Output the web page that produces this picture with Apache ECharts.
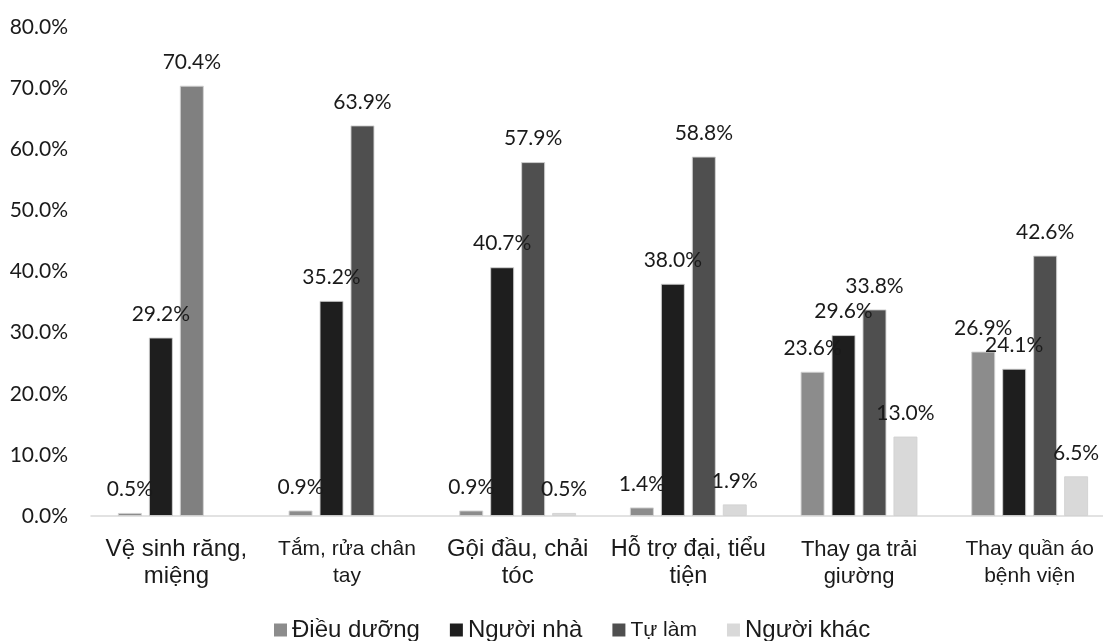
<!DOCTYPE html>
<html>
<head>
<meta charset="utf-8">
<script src="https://cdn.jsdelivr.net/npm/echarts@6/dist/echarts.min.js"></script>
<style>
  html, body { margin: 0; padding: 0; background: #ffffff; overflow: hidden; }
  /* the plot runs slightly past the right edge of the window */
  #chart { width: 1120px; height: 641px; }
</style>
</head>
<body>
<div id="chart"></div>
<script>
// Care tasks (axis categories, wrapped on two lines)
const categories = [
  'Vệ sinh răng,\nmiệng',
  'Tắm, rửa chân\ntay',
  'Gội đầu, chải\ntóc',
  'Hỗ trợ đại, tiểu\ntiện',
  'Thay ga trải\ngiường',
  'Thay quần áo\nbệnh viện'
];
const categoryFontSizes = [24, 21, 24, 23.5, 22, 21];

// Share of each task done by each person (%)
const dieuDuong = [0.5, 0.9, 0.9, 1.4, 23.6, 26.9];
const nguoiNha  = [29.2, 35.2, 40.7, 38.0, 29.6, 24.1];
const tuLam     = [70.4, 63.9, 57.9, 58.8, 33.8, 42.6];
const nguoiKhac = [null, null, 0.5, 1.9, 13.0, 6.5];

const seriesNames = ['Điều dưỡng', 'Người nhà', 'Tự làm', 'Người khác'];
const seriesColors = ['#8c8c8c', '#1e1e1e', '#4f4f4f', '#d9d9d9'];
const legendFontSizes = [24, 24, 21, 24];

const yTicks = { min: 0, max: 80, interval: 10 };

const numFont = 'Lato, "Open Sans", sans-serif';
const textFont = '"Liberation Sans", Arial, "Noto Sans", sans-serif';

function barSeries(name, values, color, idx) {
  return {
    name: name,
    type: 'bar',
    barWidth: 24,
    barGap: '29%',
    itemStyle: { color: color, borderColor: 'rgba(210,210,210,0.9)', borderWidth: 1 },
    data: values.map(function (v, i) {
      if (v === null) return '-';
      // first task's "Tự làm" bar is drawn in a lighter grey
      if (idx === 2 && i === 0) return { value: v, itemStyle: { color: '#808080' } };
      return v;
    }),
    label: {
      show: true,
      position: 'top',
      distance: 13,
      fontFamily: numFont,
      fontSize: 21,
      color: '#1a1a1a',
      formatter: function (p) { return p.value.toFixed(1) + '%'; }
    }
  };
}

const chart = echarts.init(document.getElementById('chart'), null, { renderer: 'canvas' });
chart.setOption({
  animation: false,
  backgroundColor: '#ffffff',
  grid: { left: 91, top: 27, width: 1024, height: 489 },
  legend: {
    left: 269,
    top: 613,
    icon: 'rect',
    itemWidth: 13,
    itemHeight: 13,
    itemGap: 30,
    itemStyle: { borderWidth: 0 },
    textStyle: { fontFamily: textFont, fontSize: 24, color: '#1a1a1a' },
    data: seriesNames.map(function (n, i) {
      return { name: n, textStyle: { fontSize: legendFontSizes[i] } };
    })
  },
  xAxis: {
    type: 'category',
    data: categories.map(function (c, i) {
      return { value: c, textStyle: { fontSize: categoryFontSizes[i] } };
    }),
    axisLine: { lineStyle: { color: '#d9d9d9', width: 1.5 } },
    axisTick: { show: false },
    axisLabel: {
      interval: 0,
      margin: 20,
      fontFamily: textFont,
      color: '#1a1a1a',
      lineHeight: 27
    }
  },
  yAxis: {
    type: 'value',
    min: yTicks.min,
    max: yTicks.max,
    interval: yTicks.interval,
    splitLine: { show: false },
    axisLine: { show: false },
    axisTick: { show: false },
    axisLabel: {
      margin: 23,
      fontFamily: numFont,
      fontSize: 21,
      color: '#1a1a1a',
      formatter: function (v) { return v.toFixed(1) + '%'; }
    }
  },
  series: [
    barSeries(seriesNames[0], dieuDuong, seriesColors[0], 0),
    barSeries(seriesNames[1], nguoiNha, seriesColors[1], 1),
    barSeries(seriesNames[2], tuLam, seriesColors[2], 2),
    barSeries(seriesNames[3], nguoiKhac, seriesColors[3], 3)
  ]
});
</script>
</body>
</html>
